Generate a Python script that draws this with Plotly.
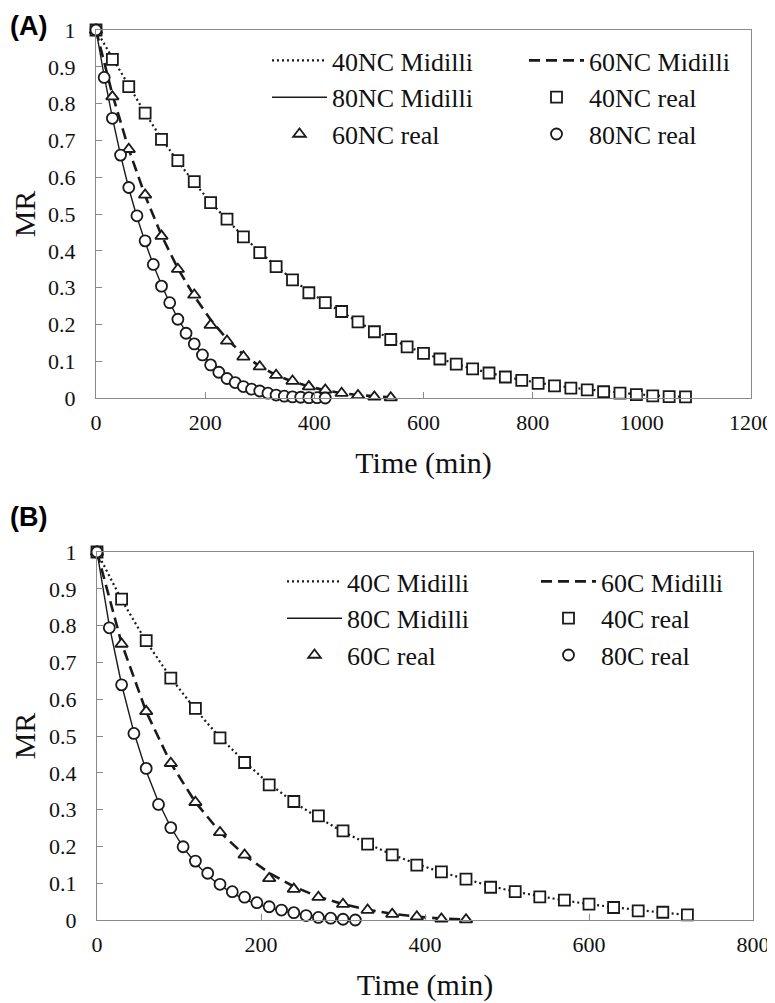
import plotly.graph_objects as go

# ---------------- Panel A data (non-conditioned) ----------------
t40_nc = list(range(0, 1081, 30))
mr40_nc_real = [1.0, 0.920, 0.846, 0.774, 0.703, 0.645, 0.588, 0.531, 0.486, 0.438, 0.395,
                0.357, 0.321, 0.286, 0.259, 0.235, 0.207, 0.180, 0.159, 0.139, 0.121, 0.106,
                0.092, 0.079, 0.068, 0.057, 0.048, 0.040, 0.033, 0.027, 0.022, 0.017, 0.013,
                0.009, 0.006, 0.004, 0.003]
mr40_nc_mid = [1.0, 0.925, 0.848, 0.774, 0.705, 0.643, 0.585, 0.532, 0.484, 0.439, 0.397,
               0.358, 0.322, 0.289, 0.260, 0.233, 0.207, 0.182, 0.160, 0.140, 0.122, 0.106,
               0.092, 0.079, 0.068, 0.058, 0.049, 0.041, 0.034, 0.028, 0.023, 0.018, 0.014,
               0.010, 0.007, 0.005, 0.003]

t60_nc = list(range(0, 541, 30))
mr60_nc_real = [1.0, 0.819, 0.676, 0.552, 0.440, 0.350, 0.280, 0.198, 0.155, 0.112, 0.085,
                0.062, 0.046, 0.031, 0.022, 0.013, 0.007, 0.003, 0.001]
mr60_nc_mid = [1.0, 0.825, 0.676, 0.550, 0.442, 0.352, 0.277, 0.213, 0.160, 0.118, 0.086,
               0.062, 0.045, 0.031, 0.021, 0.013, 0.008, 0.004, 0.002]

t80_nc = list(range(0, 421, 15))
mr80_nc_real = [1.0, 0.871, 0.760, 0.660, 0.572, 0.495, 0.427, 0.363, 0.304, 0.259, 0.214,
                0.176, 0.147, 0.117, 0.090, 0.070, 0.053, 0.042, 0.031, 0.024, 0.019, 0.013,
                0.008, 0.005, 0.003, 0.002, 0.001, 0.001, 0.000]
mr80_nc_mid = [1.0, 0.875, 0.762, 0.660, 0.570, 0.492, 0.424, 0.362, 0.307, 0.259, 0.216,
               0.179, 0.146, 0.118, 0.093, 0.072, 0.056, 0.043, 0.032, 0.024, 0.018, 0.013,
               0.009, 0.006, 0.004, 0.003, 0.002, 0.001, 0.000]

# ---------------- Panel B data (conditioned) ----------------
t40_c = list(range(0, 721, 30))
mr40_c_real = [1.0, 0.872, 0.759, 0.657, 0.575, 0.495, 0.428, 0.367, 0.322, 0.283, 0.242,
               0.206, 0.177, 0.149, 0.131, 0.111, 0.089, 0.077, 0.063, 0.054, 0.043, 0.034,
               0.025, 0.021, 0.014]
mr40_c_mid = [1.0, 0.870, 0.757, 0.658, 0.572, 0.496, 0.430, 0.370, 0.320, 0.278, 0.240,
              0.207, 0.178, 0.152, 0.130, 0.110, 0.092, 0.077, 0.064, 0.053, 0.043, 0.034,
              0.027, 0.020, 0.014]

t60_c = list(range(0, 451, 30))
mr60_c_real = [1.0, 0.750, 0.567, 0.426, 0.320, 0.238, 0.177, 0.113, 0.084, 0.062, 0.043,
               0.027, 0.016, 0.009, 0.003, 0.001]
mr60_c_mid = [1.0, 0.752, 0.566, 0.426, 0.320, 0.239, 0.176, 0.128, 0.091, 0.063, 0.043,
              0.028, 0.017, 0.009, 0.004, 0.001]

t80_c = list(range(0, 316, 15))
mr80_c_real = [1.0, 0.794, 0.639, 0.507, 0.412, 0.314, 0.251, 0.199, 0.160, 0.127, 0.097,
               0.077, 0.062, 0.047, 0.036, 0.027, 0.020, 0.012, 0.007, 0.005, 0.002, 0.000]
mr80_c_mid = [1.0, 0.800, 0.640, 0.510, 0.405, 0.320, 0.252, 0.198, 0.155, 0.121, 0.094,
              0.073, 0.056, 0.043, 0.033, 0.025, 0.018, 0.013, 0.009, 0.006, 0.003, 0.001]

x_ticks_a = [0, 200, 400, 600, 800, 1000, 1200]
x_ticks_b = [0, 200, 400, 600, 800]
y_ticks = [0, 0.1, 0.2, 0.3, 0.4, 0.5, 0.6, 0.7, 0.8, 0.9, 1]

INK = "#1a1a1a"
AXIS = "#8a8a8a"
SERIF = "Liberation Serif"

fig = go.Figure()


def add_panel(xaxis, yaxis, legend, labels, tl, yl, tr, yr):
    dashes = ["2px,3px", "11px,6px", "solid"]
    widths = [2.2, 2.6, 1.4]
    for lab, t, y, d, w in zip(labels[:3], tl, yl, dashes, widths):
        fig.add_trace(go.Scatter(x=t, y=y, mode="lines", name=lab,
                                 line=dict(color=INK, width=w, dash=d),
                                 xaxis=xaxis, yaxis=yaxis, legend=legend,
                                 cliponaxis=False))
    symbols = ["square", "triangle-up", "circle"]
    for lab, t, y, s in zip(labels[3:], tr, yr, symbols):
        fig.add_trace(go.Scatter(x=t, y=y, mode="markers", name=lab,
                                 marker=dict(symbol=s, size=11, color="white",
                                             line=dict(color=INK, width=1.8)),
                                 xaxis=xaxis, yaxis=yaxis, legend=legend,
                                 cliponaxis=False))


add_panel("x", "y", "legend",
          ["40NC Midilli", "60NC Midilli", "80NC Midilli",
           "40NC real", "60NC real", "80NC real"],
          [t40_nc, t60_nc, t80_nc], [mr40_nc_mid, mr60_nc_mid, mr80_nc_mid],
          [t40_nc, t60_nc, t80_nc], [mr40_nc_real, mr60_nc_real, mr80_nc_real])

add_panel("x2", "y2", "legend2",
          ["40C Midilli", "60C Midilli", "80C Midilli",
           "40C real", "60C real", "80C real"],
          [t40_c, t60_c, t80_c], [mr40_c_mid, mr60_c_mid, mr80_c_mid],
          [t40_c, t60_c, t80_c], [mr40_c_real, mr60_c_real, mr80_c_real])

# The page body has an 8px default margin, so the figure is drawn 8px in/down.
OFF = 8
W, H = 775 - OFF, 1003 - OFF
MR_R = 16
PW = W - MR_R


def px_x(p):
    return (p - OFF) / PW


def px_y(p):
    return 1 - (p - OFF) / H


TICKFONT = dict(family=SERIF, size=22, color="#111")
TITLEFONT = dict(family=SERIF, size=30, color="#111")

axis_common = dict(showline=True, linecolor=AXIS, linewidth=1.3, mirror=True,
                   ticks="inside", ticklen=6, tickcolor=AXIS, tickwidth=1,
                   showgrid=False, zeroline=False, automargin=False,
                   tickfont=TICKFONT)

xa = dict(axis_common, ticklabelstandoff=4,
          title=dict(text="Time (min)", font=TITLEFONT, standoff=18))
ya = dict(axis_common, ticklabelstandoff=15, tickvals=y_ticks,
          title=dict(text="MR", font=TITLEFONT, standoff=31))

legend_common = dict(orientation="h", xanchor="left", yanchor="top",
                     entrywidthmode="pixels", itemwidth=55,
                     bgcolor="rgba(0,0,0,0)", borderwidth=0,
                     font=dict(family=SERIF, size=26, color="#111"))

fig.update_layout(
    template="none",
    width=W, height=H,
    margin=dict(l=0, r=MR_R, t=0, b=0, pad=0, autoexpand=False),
    paper_bgcolor="white", plot_bgcolor="white",
    font=dict(family=SERIF, size=22, color="#111"),
    xaxis=dict(xa, domain=[px_x(96), px_x(751)], range=[0, 1200], tickvals=x_ticks_a, anchor="y"),
    yaxis=dict(ya, domain=[px_y(398), px_y(30)], range=[0, 1], anchor="x"),
    xaxis2=dict(xa, domain=[px_x(97), px_x(753)], range=[0, 800], tickvals=x_ticks_b, anchor="y2"),
    yaxis2=dict(ya, domain=[px_y(920), px_y(552)], range=[0, 1], anchor="x2"),
    legend=dict(legend_common, x=px_x(267), y=px_y(37), entrywidth=187),
    legend2=dict(legend_common, x=px_x(282), y=px_y(558), entrywidth=184),
    showlegend=True,
    annotations=[
        dict(text="<b>(A)</b>", x=px_x(8), y=px_y(9), xref="paper", yref="paper",
             xanchor="left", yanchor="top", showarrow=False,
             font=dict(family="Liberation Sans", size=27, color="black")),
        dict(text="<b>(B)</b>", x=px_x(8), y=px_y(500), xref="paper", yref="paper",
             xanchor="left", yanchor="top", showarrow=False,
             font=dict(family="Liberation Sans", size=27, color="black")),
    ],
)

fig.write_html("out.html")
